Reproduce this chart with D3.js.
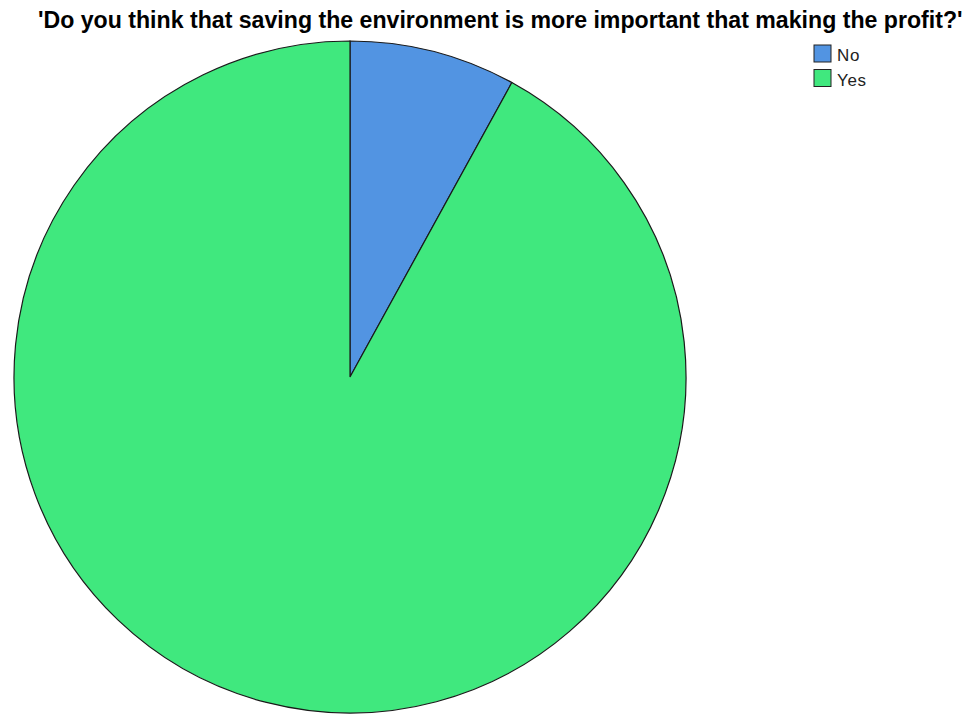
<!DOCTYPE html>
<html lang="en">
<head>
    <meta charset="UTF-8">
    <title>Saving the environment vs profit</title>
    <script src="https://cdn.jsdelivr.net/npm/d3@7/dist/d3.min.js"></script>
    <style>
        body { margin: 0; background: #fff; }
        svg { display: block; font-family: "Liberation Sans", Arial, sans-serif; }
    </style>
</head>
<body>
    <div id="chart"></div>

    <script>
        // data
        const categories = ["No", "Yes"];
        const percents = [8, 92];
        const colors = ["#5294e2", "#40e87e"];

        const width = 968, height = 715;
        const cx = 350, cy = 377, radius = 336;

        const svg = d3.select("#chart").append("svg")
            .attr("width", width)
            .attr("height", height);

        // title, fitted to the width it takes in the original
        const title = svg.append("text")
            .attr("x", 38)
            .attr("y", 28)
            .attr("font-size", 20)
            .attr("font-weight", "bold")
            .attr("fill", "#000")
            .text("'Do you think that saving the environment is more important that making the profit?'");
        const w = title.node().getComputedTextLength();
        title.attr("font-size", 20 * 925 / w);

        // pie
        const slices = categories.map((c, i) => ({ name: c, value: percents[i], color: colors[i] }));
        const pie = d3.pie().sort(null).value(d => d.value);
        const arc = d3.arc().innerRadius(0).outerRadius(radius);

        svg.append("g")
            .attr("transform", `translate(${cx}, ${cy})`)
            .selectAll("path")
            .data(pie(slices))
            .join("path")
            .attr("d", arc)
            .attr("fill", d => d.data.color)
            .attr("stroke", "#1a1a1a")
            .attr("stroke-width", 1.2);

        // legend
        const legend = svg.append("g")
            .attr("transform", "translate(814, 45)");

        const item = legend.selectAll("g")
            .data(slices)
            .join("g")
            .attr("transform", (d, i) => `translate(0, ${i * 24.5})`);

        item.append("rect")
            .attr("width", 17)
            .attr("height", 17)
            .attr("fill", d => d.color)
            .attr("stroke", "#222")
            .attr("stroke-width", 1);

        item.append("text")
            .attr("x", 23)
            .attr("y", 16)
            .attr("font-size", 17)
            .attr("letter-spacing", 0.6)
            .attr("fill", "#222")
            .text(d => d.name);
    </script>
</body>
</html>
